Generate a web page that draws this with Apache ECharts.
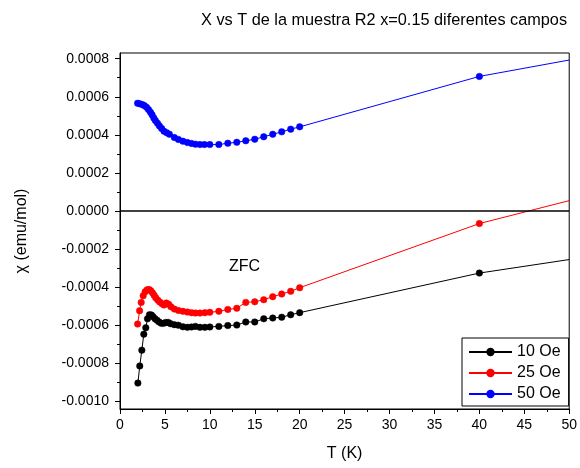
<!DOCTYPE html>
<html>
<head>
<meta charset="utf-8">
<script src="https://cdn.jsdelivr.net/npm/echarts@6/dist/echarts.min.js"></script>
<style>html,body{margin:0;padding:0;background:#fff;}#c{width:580px;height:468px;}</style>
</head>
<body>
<div id="c"></div>
<script>
// ---- data ----
var tBlue = [1.96,2.2,2.47,2.7,2.95,3.17,3.39,3.57,3.76,3.94,4.17,4.39,4.64,4.9,5.2,5.5,6.05,6.5,7.0,7.5,7.96,8.4,8.9,9.4,10.0,11,12,13,14,15,16,17,18,19,20,40,50];
var chi50 = [0.000566,0.000563,0.000559,0.000554,0.000545,0.000533,0.000519,0.000505,0.000489,0.000475,0.000461,0.000447,0.000433,0.000419,0.000411,0.000403,0.000386,0.000376,0.000367,0.000360,0.000355,0.000351,0.000349,0.000349,0.000349,0.000349,0.000356,0.000361,0.000369,0.000377,0.000390,0.000403,0.000416,0.000430,0.000442,0.000707,0.000793];

var tRed = [1.96,2.18,2.36,2.58,2.8,3.02,3.24,3.43,3.62,3.8,3.98,4.2,4.42,4.67,4.9,5.16,5.42,5.67,6.05,6.5,7.0,7.5,7.96,8.4,8.9,9.45,10.0,11,12,13,14,15,16,17,18,19,20,40,50];
var chi25 = [-0.000594,-0.000524,-0.000480,-0.000445,-0.000424,-0.000414,-0.000412,-0.000419,-0.000430,-0.000443,-0.000456,-0.000468,-0.000478,-0.000487,-0.000494,-0.000483,-0.000490,-0.000503,-0.000515,-0.000522,-0.000527,-0.000531,-0.000534,-0.000536,-0.000536,-0.000534,-0.000532,-0.000527,-0.000517,-0.000511,-0.000480,-0.000477,-0.000466,-0.000450,-0.000436,-0.000422,-0.000403,-0.000066,0.0000545];

var tBlack = [1.99,2.2,2.43,2.65,2.87,3.06,3.28,3.5,3.68,3.9,4.12,4.35,4.6,4.85,5.1,5.37,5.63,6.05,6.5,7.0,7.5,7.96,8.4,8.9,9.45,10.0,11,12,13,14,15,16,17,18,19,20,40,50];
var chi10 = [-0.000904,-0.000814,-0.000731,-0.000647,-0.000613,-0.000566,-0.000545,-0.000546,-0.000555,-0.000566,-0.000574,-0.000583,-0.000590,-0.000590,-0.000585,-0.000585,-0.000592,-0.000597,-0.000600,-0.000608,-0.000611,-0.000609,-0.000606,-0.000611,-0.000611,-0.000609,-0.000606,-0.000602,-0.000599,-0.000583,-0.000583,-0.000566,-0.000562,-0.000558,-0.000545,-0.000534,-0.000326,-0.000255];

var seriesNames = ['10 Oe','25 Oe','50 Oe'];
var yTicks = [-0.0010,-0.0008,-0.0006,-0.0004,-0.0002,0.0000,0.0002,0.0004,0.0006,0.0008];
var yMinorTicks = [-0.0009,-0.0007,-0.0005,-0.0003,-0.0001,0.0001,0.0003,0.0005,0.0007];

function pts(ts, vs) {
  return ts.map(function (t, i) {
    var d = { value: [t, vs[i]] };
    if (t >= 50) d.symbol = 'none';
    return d;
  });
}

var FONT = 'Liberation Sans, Arial, sans-serif';
var chart = echarts.init(document.getElementById('c'), null, { renderer: 'canvas' });

function mkSeries(name, color, data, extra) {
  var s = {
    name: name, type: 'line', data: data,
    symbol: 'circle', symbolSize: 6.5,
    lineStyle: { color: color, width: 1 },
    itemStyle: { color: color, borderColor: color, borderWidth: 0.5 },
    emphasis: { disabled: true },
    clip: true, z: 3
  };
  if (extra) for (var k in extra) s[k] = extra[k];
  return s;
}

chart.setOption({
  animation: false,
  backgroundColor: '#fff',
  title: {
    text: 'X vs T de la muestra R2 x=0.15 diferentes campos',
    left: 196, top: 8,
    textStyle: { fontFamily: FONT, fontSize: 16.3, fontWeight: 'normal', color: '#000' }
  },
  grid: { left: 120, right: 8, top: 53, bottom: 59, show: true, borderColor: '#000', borderWidth: 1, backgroundColor: 'transparent' },
  legend: {
    data: seriesNames,
    orient: 'vertical',
    left: 462, top: 338,
    width: 108,
    padding: [6, 8, 4, 6],
    itemWidth: 43, itemHeight: 8, itemGap: 5,
    backgroundColor: '#fff',
    borderColor: '#000', borderWidth: 1,
    textStyle: { fontFamily: FONT, fontSize: 16, color: '#000' }
  },
  graphic: [{
    type: 'text', left: 229, top: 259,
    style: { text: 'ZFC', font: '16px ' + FONT, fill: '#000' }
  }],
  xAxis: {
    type: 'value', min: 0, max: 50, interval: 5,
    name: 'T (K)', nameLocation: 'middle', nameGap: 37,
    nameTextStyle: { fontFamily: FONT, fontSize: 16, color: '#000' },
    axisLine: { show: true, onZero: false, lineStyle: { color: '#000', width: 1 } },
    axisTick: { show: true, inside: false, length: 5, lineStyle: { color: '#000' } },
    minorTick: { show: true, splitNumber: 2, length: 3, lineStyle: { color: '#000' } },
    axisLabel: { fontFamily: FONT, fontSize: 14, color: '#000', margin: 9 },
    splitLine: { show: false }
  },
  yAxis: [{
    type: 'value', min: -0.00104, max: 0.00083,
    name: 'χ (emu/mol)', nameLocation: 'middle', nameGap: 90,
    nameTextStyle: { fontFamily: FONT, fontSize: 16, color: '#000' },
    axisLine: { show: true, onZero: false, lineStyle: { color: '#000', width: 1 } },
    axisTick: { show: true, inside: false, length: 5, customValues: yTicks, lineStyle: { color: '#000' } },
    axisLabel: {
      fontFamily: FONT, fontSize: 14, color: '#000', margin: 11,
      customValues: yTicks,
      formatter: function (v) { return (Math.abs(v) < 1e-12 ? 0 : v).toFixed(4); }
    },
    splitLine: { show: false }
  }, {
    type: 'value', min: -0.00104, max: 0.00083, position: 'left',
    axisLine: { show: false },
    axisTick: { show: true, inside: false, length: 3, customValues: yMinorTicks, lineStyle: { color: '#000' } },
    axisLabel: { show: false },
    splitLine: { show: false }
  }],
  series: [
    mkSeries(seriesNames[0], '#000000', pts(tBlack, chi10), {
      markLine: {
        silent: true, symbol: 'none', label: { show: false },
        lineStyle: { color: '#000', width: 1.5, type: 'solid' },
        data: [{ yAxis: 0 }]
      }
    }),
    mkSeries(seriesNames[1], '#ff0000', pts(tRed, chi25)),
    mkSeries(seriesNames[2], '#0000ff', pts(tBlue, chi50))
  ]
});
</script>
</body>
</html>
